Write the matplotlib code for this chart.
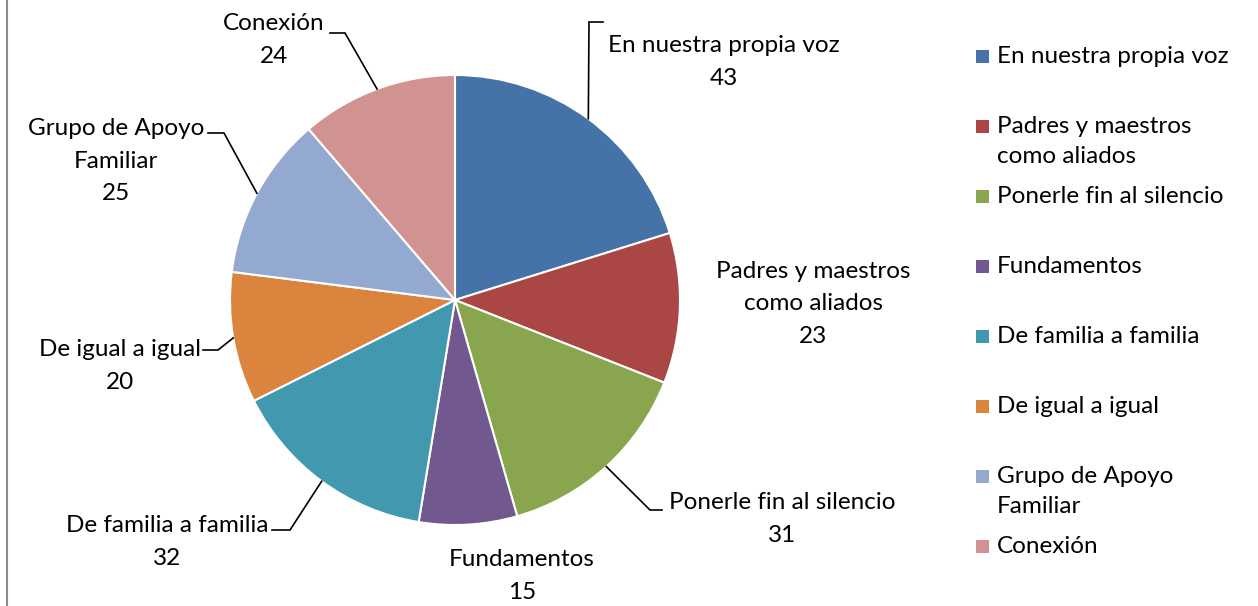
import numpy as np
import matplotlib
matplotlib.use("Agg")
import matplotlib.pyplot as plt
from matplotlib.patches import Rectangle

categories = ["En nuestra propia voz", "Padres y maestros como aliados",
              "Ponerle fin al silencio", "Fundamentos", "De familia a familia",
              "De igual a igual", "Grupo de Apoyo Familiar", "Conexión"]
values = [43, 23, 31, 15, 32, 20, 25, 24]
slice_labels = ["En nuestra propia voz", "Padres y maestros\ncomo aliados",
                "Ponerle fin al silencio", "Fundamentos", "De familia a familia",
                "De igual a igual", "Grupo de Apoyo\nFamiliar", "Conexión"]
legend_labels = ["En nuestra propia voz", "Padres y maestros\ncomo aliados",
                 "Ponerle fin al silencio", "Fundamentos", "De familia a familia",
                 "De igual a igual", "Grupo de Apoyo\nFamiliar", "Conexión"]
colors = ["#4572A7", "#AA4643", "#89A54E", "#71588F", "#4198AF",
          "#DB843D", "#93A9CF", "#D19392"]

W, H = 1258, 606
FONT = "Lato"
FS = 17.5

fig = plt.figure(figsize=(W / 100, H / 100), dpi=100)
ax = fig.add_axes([0, 0, 1, 1])

def Y(y):
    return H - y

cx, cy, R = 455, Y(300), 225
wedges, _ = ax.pie(values, colors=colors, startangle=90, counterclock=False,
                   center=(cx, cy), radius=R,
                   wedgeprops=dict(edgecolor="white", linewidth=1.5))
ax.set_xlim(0, W)
ax.set_ylim(0, H)
ax.set_aspect("equal")
ax.axis("off")

# label layout: text center (px), leader elbow (px), leader end x (px)
layout = [
    ((724, 62), (589, 22), 603),
    ((813, 304), None, None),
    ((782, 519), (650, 510), 662),
    ((522, 576), None, None),
    ((167, 542), (290, 530), 272),
    ((120, 366), (218, 350), 203),
    ((116, 161), (224, 133), 208),
    ((274, 40), (345, 33), 330),
]

for w, lab, v, (tpos, elbow, endx) in zip(wedges, slice_labels, values, layout):
    tx, ty = tpos
    ax.text(tx, Y(ty), f"{lab}\n{v}", ha="center", va="center",
            multialignment="center", fontsize=FS, family=FONT,
            linespacing=1.66, color="black")
    if elbow is not None:
        ang = np.deg2rad((w.theta1 + w.theta2) / 2)
        sx, sy = cx + R * np.cos(ang), cy + R * np.sin(ang)
        ex, ey = elbow
        ax.plot([sx, ex, endx], [sy, Y(ey), Y(ey)], color="black", lw=1.2,
                solid_joinstyle="miter")

# legend
for i, (lab, c) in enumerate(zip(legend_labels, colors)):
    yc = 57 + 70 * i
    ax.add_patch(Rectangle((976, Y(yc) - 6), 13, 13, facecolor=c, edgecolor="none"))
    ax.text(997, Y(yc) + 11, lab, ha="left", va="top", fontsize=FS,
            family=FONT, linespacing=1.53, color="black")

# left border line
ax.plot([7, 7], [0, H], color="#8c8c8c", lw=1.5)

fig.savefig("out.png", dpi=100)
